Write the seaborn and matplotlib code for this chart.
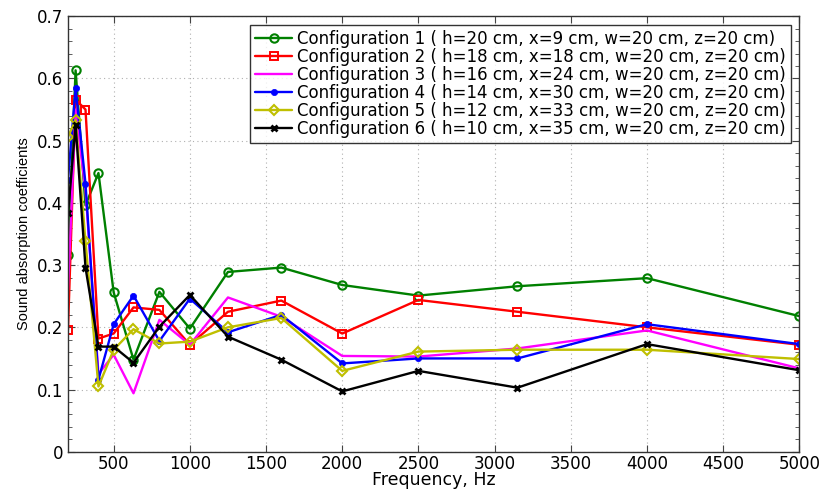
import matplotlib
matplotlib.use("Agg")
import matplotlib.pyplot as plt
import pandas as pd
import seaborn as sns
from matplotlib.ticker import MultipleLocator

freqs = [200, 250, 315, 400, 500, 630, 800, 1000, 1250, 1600, 2000, 2500, 3150, 4000, 5000]

config1 = [0.316, 0.613, 0.396, 0.448, 0.256, 0.148, 0.257, 0.198, 0.289, 0.296, 0.268, 0.251, 0.266, 0.279, 0.218]
config2 = [0.196, 0.566, 0.550, 0.182, 0.190, 0.232, 0.228, 0.172, 0.225, 0.243, 0.190, 0.244, 0.225, 0.200, 0.172]
config3 = [0.26, 0.55, 0.42, 0.125, 0.156, 0.094, 0.212, 0.172, 0.248, 0.217, 0.154, 0.153, 0.166, 0.195, 0.134]
config4 = [0.437, 0.584, 0.431, 0.116, 0.205, 0.251, 0.178, 0.246, 0.192, 0.220, 0.142, 0.150, 0.150, 0.205, 0.173]
config5 = [0.506, 0.533, 0.338, 0.105, 0.164, 0.197, 0.174, 0.177, 0.200, 0.215, 0.130, 0.161, 0.164, 0.164, 0.149]
config6 = [0.383, 0.525, 0.296, 0.169, 0.169, 0.143, 0.201, 0.252, 0.185, 0.148, 0.097, 0.130, 0.103, 0.173, 0.131]

labels = [
    "Configuration 1 ( h=20 cm, x=9 cm, w=20 cm, z=20 cm)",
    "Configuration 2 ( h=18 cm, x=18 cm, w=20 cm, z=20 cm)",
    "Configuration 3 ( h=16 cm, x=24 cm, w=20 cm, z=20 cm)",
    "Configuration 4 ( h=14 cm, x=30 cm, w=20 cm, z=20 cm)",
    "Configuration 5 ( h=12 cm, x=33 cm, w=20 cm, z=20 cm)",
    "Configuration 6 ( h=10 cm, x=35 cm, w=20 cm, z=20 cm)",
]

x_ticks = [500, 1000, 1500, 2000, 2500, 3000, 3500, 4000, 4500, 5000]
y_ticks = [0, 0.1, 0.2, 0.3, 0.4, 0.5, 0.6, 0.7]
y_tick_labels = ["0", "0.1", "0.2", "0.3", "0.4", "0.5", "0.6", "0.7"]

series = [config1, config2, config3, config4, config5, config6]
colors = ["#008000", "#ff0000", "#ff00ff", "#0000ff", "#bfbf00", "#000000"]
styles = [
    dict(marker="o", markersize=6, markerfacecolor="none", markeredgewidth=1.5),
    dict(marker="s", markersize=5.5, markerfacecolor="none", markeredgewidth=1.4),
    dict(marker=""),
    dict(marker="o", markersize=4.5, markeredgewidth=0.5),
    dict(marker="D", markersize=5.5, markerfacecolor="none", markeredgewidth=1.5),
    dict(marker="x", markersize=4, markeredgewidth=2),
]

sns.set_style("ticks")
plt.rcParams["font.family"] = ["DejaVu Sans"]
plt.rcParams["text.color"] = "black"
plt.rcParams["axes.labelcolor"] = "black"

fig = plt.figure(figsize=(8.19, 4.9), dpi=100)
ax = fig.add_axes([0.083, 0.078, 0.893, 0.889])

for vals, label, col, st in zip(series, labels, colors, styles):
    df = pd.DataFrame({"freq": freqs, "alpha": vals})
    sns.lineplot(data=df, x="freq", y="alpha", ax=ax, label=label, color=col,
                 linewidth=1.7, linestyle="-", dashes=False,
                 markeredgecolor=col, **st)

ax.set_xlim(200, 5000)
ax.set_ylim(0, 0.7)
ax.set_xticks(x_ticks)
ax.set_yticks(y_ticks)
ax.set_yticklabels(y_tick_labels)
ax.yaxis.set_minor_locator(MultipleLocator(0.02))
ax.tick_params(which="both", direction="in", top=True, right=True, labelsize=12,
               labelcolor="black", color="#444444")
ax.tick_params(axis="x", pad=2)
ax.tick_params(which="major", length=5)
ax.tick_params(which="minor", length=3)
ax.grid(True, which="major", linestyle=(0, (1, 3)), color="#b0b0b0", linewidth=0.8)
for s in ax.spines.values():
    s.set_color("#333333")
    s.set_linewidth(1)

ax.set_xlabel("Frequency, Hz", fontsize=12.5, labelpad=-1)
ax.set_ylabel("Sound absorption coefficients", fontsize=10.5, labelpad=4,
              family="Liberation Sans")

leg = ax.legend(loc="upper right", fontsize=12, handlelength=2.2, borderpad=0.3,
                labelspacing=0.0, handletextpad=0.3, frameon=True, fancybox=False,
                borderaxespad=0.5)
leg.get_frame().set_edgecolor("#000000")
leg.get_frame().set_linewidth(1)

fig.savefig("out.png", dpi=100)
